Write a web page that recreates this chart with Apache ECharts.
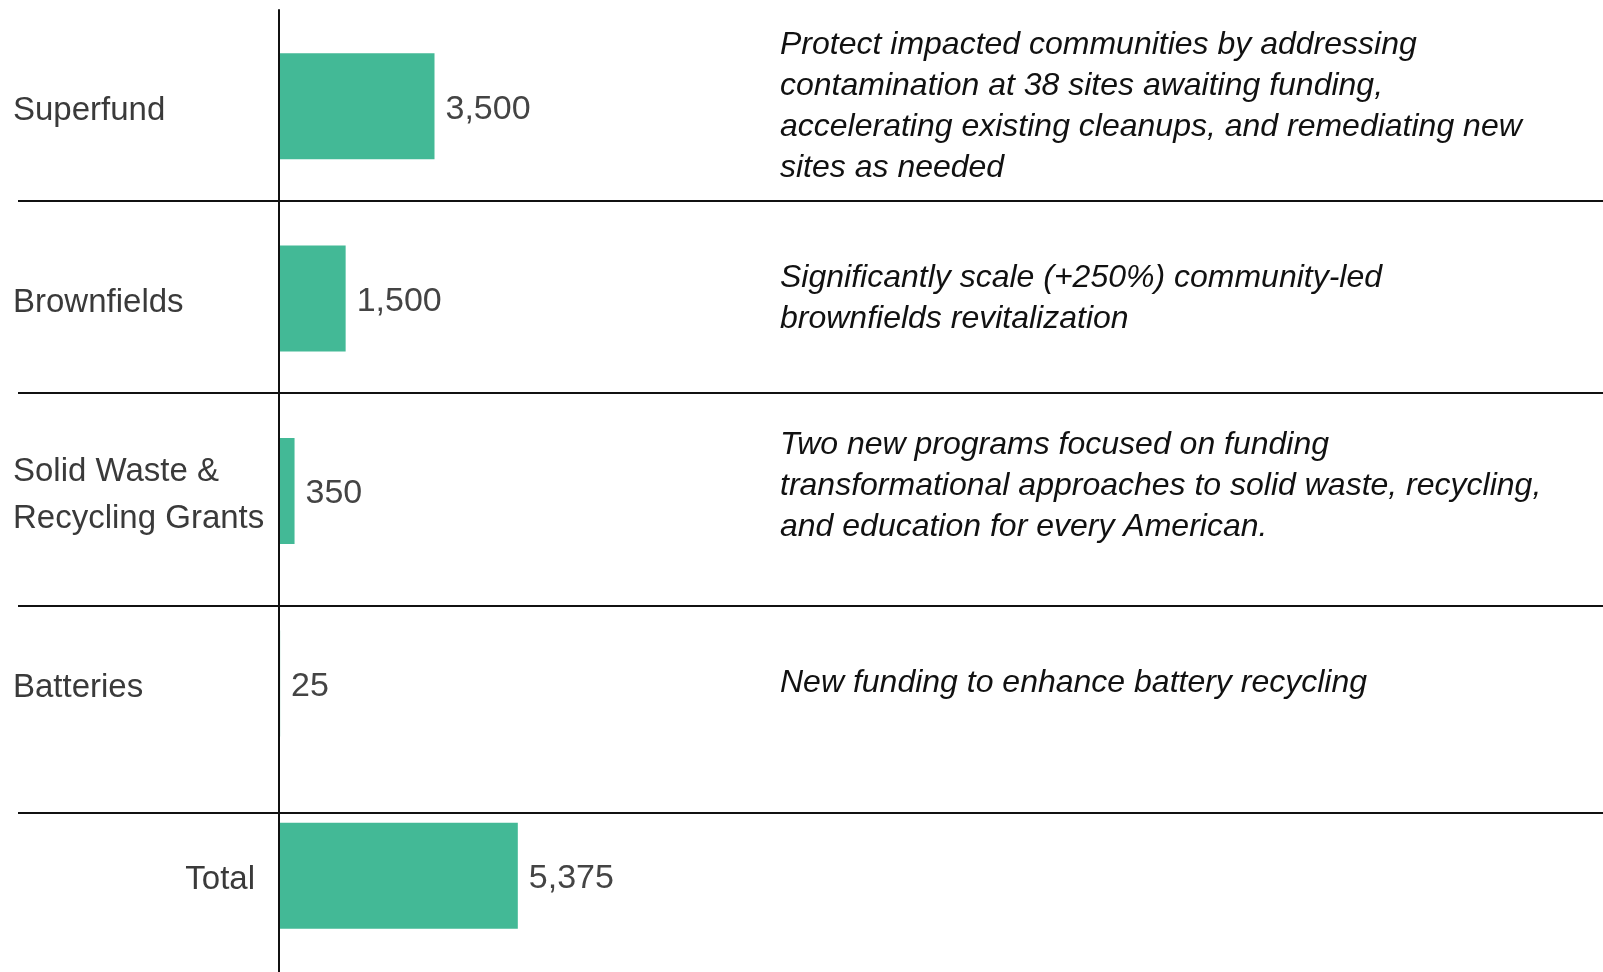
<!DOCTYPE html>
<html>
<head>
    <meta charset="UTF-8">
    <title>Superfund and recycling funding</title>
    <script src="https://cdn.jsdelivr.net/npm/echarts@6.0.0/dist/echarts.min.js"></script>
    <style>
        html, body {
            margin: 0;
            padding: 0;
            background: #fff;
        }
        #chartContainer {
            width: 1603px;
            height: 972px;
        }
    </style>
</head>
<body>
    <div id="chartContainer"></div>

    <script>
        const categories = ['Superfund', 'Brownfields', 'Solid Waste &\nRecycling Grants', 'Batteries', 'Total'];
        const amounts = [3500, 1500, 350, 25, 5375];
        const descriptions = [
            'Protect impacted communities by addressing\ncontamination at 38 sites awaiting funding,\naccelerating existing cleanups, and remediating new\nsites as needed',
            'Significantly scale (+250%) community-led\nbrownfields revitalization',
            'Two new programs focused on funding\ntransformational approaches to solid waste, recycling,\nand education for every American.',
            'New funding to enhance battery recycling',
            ''
        ];

        const font = '"Liberation Sans", Arial, sans-serif';
        const myChart = echarts.init(document.getElementById('chartContainer'));

        // horizontal separators between rows
        const separatorY = [201, 393, 606, 813];
        const separators = separatorY.map(y => ({
            type: 'line',
            shape: { x1: 18, y1: y, x2: 1603, y2: y },
            style: { stroke: '#111', lineWidth: 2 },
            z: 10
        }));

        const option = {
            animation: false,
            graphic: separators,
            grid: {
                left: 279,
                right: 0,
                top: 10,
                height: 969
            },
            xAxis: {
                type: 'value',
                min: 0,
                max: 29800,
                show: false
            },
            yAxis: [{
                type: 'category',
                inverse: true,
                data: categories,
                position: 'left',
                axisLine: { show: true, lineStyle: { color: '#111', width: 2 } },
                axisTick: { show: false },
                splitLine: { show: false },
                z: 11,
                axisLabel: {
                    interval: 0,
                    align: 'left',
                    margin: 266,
                    fontFamily: font,
                    fontSize: 33,
                    lineHeight: 47,
                    padding: [9, 0, 0, 0],
                    color: '#3a3a3a',
                    formatter: function (v) {
                        return v === 'Total' ? '{t|' + v + '}' : v;
                    },
                    rich: {
                        t: {
                            width: 242,
                            align: 'right',
                            fontFamily: font,
                            fontSize: 33,
                            color: '#3a3a3a'
                        }
                    }
                }
            }, {
                type: 'category',
                inverse: true,
                data: descriptions,
                position: 'right',
                offset: -823,
                axisLine: { show: false },
                axisTick: { show: false },
                splitLine: { show: false },
                axisLabel: {
                    interval: 0,
                    align: 'left',
                    margin: 0,
                    fontFamily: font,
                    fontStyle: 'italic',
                    fontSize: 32,
                    lineHeight: 41,
                    color: '#111',
                    // the third description sits a little above its bar
                    formatter: (v, i) => i === 2 ? v + '\n{s|}' : v,
                    rich: {
                        s: { fontSize: 10, lineHeight: 10 }
                    }
                }
            }],
            series: [{
                type: 'bar',
                data: amounts,
                barWidth: 106,
                itemStyle: { color: '#43b996' },
                label: {
                    show: true,
                    position: 'right',
                    distance: 11,
                    offset: [0, 3],
                    fontFamily: font,
                    fontSize: 34,
                    color: '#444',
                    formatter: p => p.value.toLocaleString('en-US')
                }
            }]
        };

        myChart.setOption(option);

        window.addEventListener('resize', function () {
            myChart && myChart.resize();
        });
    </script>
</body>
</html>
